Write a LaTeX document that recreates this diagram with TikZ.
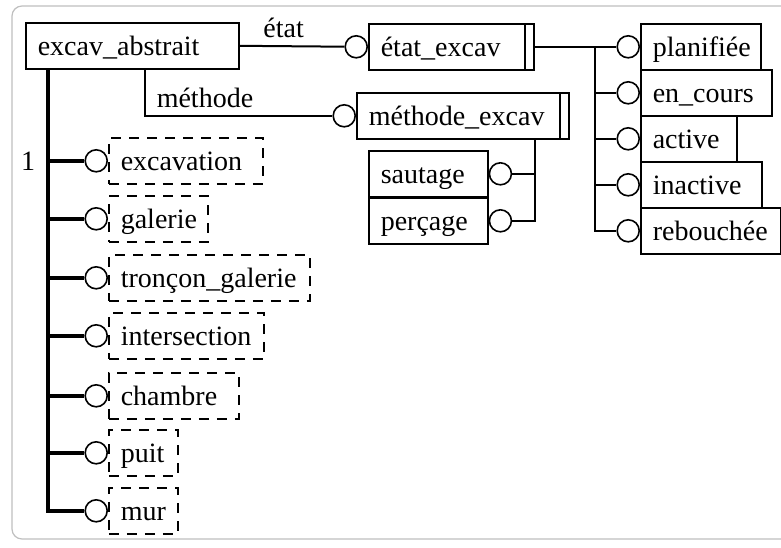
\documentclass[tikz,border=0pt]{standalone}
\usepackage{fontspec}
\setmainfont{Liberation Serif}
\usepackage{tikz}
\usetikzlibrary{positioning}

\tikzset{
  cls/.style = {draw, line width=1.6pt, anchor=north west, inner xsep=12pt, inner ysep=0pt, minimum height=46pt, text height=22pt, text depth=2pt, align=left},
  sub/.style = {cls, dash pattern=on 10pt off 8pt},
  ball/.style = {draw, circle, line width=1.6pt, minimum size=22pt, inner sep=0pt, fill=white},
  wire/.style = {line width=2pt},
  heavy/.style = {line width=4.5pt},
}

\begin{document}
\begin{tikzpicture}[x=1pt, y=-1pt, font=\fontsize{28}{32}\selectfont]
%\draw[help lines] (0,0) grid[step=50] (781,547);
\useasboundingbox (0,0) rectangle (781,547);
\draw [gray!50, line width=1.2pt, rounded corners=10pt] (12,6) rectangle (800,539);

\node (excav) [cls, text width=189pt] at (25,22) {excav\_abstrait};
\node (etat) [cls, text width=141pt] at (368,23) {état\_excav};
\node (methode) [cls, text width=188pt] at (356,92) {méthode\_excav};
\node (sautage) [cls, text width=95pt] at (368,150) {sautage};
\node (percage) [cls, text width=95pt] at (368,197) {perçage};

\node (planifiee) [cls, text width=96pt] at (640,23) {planifiée};
\node (en_cours) [cls, text width=107pt] at (640,69) {en\_cours};
\node (active) [cls, text width=72pt] at (640,115) {active};
\node (inactive) [cls, text width=97pt] at (640,161) {inactive};
\node (rebouchee) [cls, text width=116pt] at (640,207) {rebouchée};

\node (excavation) [sub, text width=130pt] at (108,137) {excavation};
\node (galerie) [sub, text width=75pt] at (108,195) {galerie};
\node (troncon) [sub, text width=177pt] at (108,254) {tronçon\_galerie};
\node (intersection) [sub, text width=131pt] at (108,312) {intersection};
\node (chambre) [sub, text width=106pt] at (108,372) {chambre};
\node (puit) [sub, text width=45pt] at (108,429) {puit};
\node (mur) [sub, text width=45pt] at (108,487) {mur};

\draw [wire] ([xshift=-10pt]etat.north east) -- ([xshift=-10pt]etat.south east);
\draw [wire] ([xshift=-10pt]methode.north east) -- ([xshift=-10pt]methode.south east);

\coordinate (trunk) at ([xshift=23pt]excav.south west);
\coordinate (bus) at ([xshift=60pt]etat.east);
\coordinate (mbus) at ([xshift=-35pt]methode.south east);

\node (b_etat) [ball, left=0pt of etat] {};
\node (b_methode) [ball, left=0pt of methode] {};
\node (b_sautage) [ball, right=0pt of sautage] {};
\node (b_percage) [ball, right=0pt of percage] {};
\node (b_planifiee) [ball, left=0pt of planifiee] {};
\node (b_en_cours) [ball, left=0pt of en_cours] {};
\node (b_active) [ball, left=0pt of active] {};
\node (b_inactive) [ball, left=0pt of inactive] {};
\node (b_rebouchee) [ball, left=0pt of rebouchee] {};
\node (b_excavation) [ball, left=0pt of excavation] {};
\node (b_galerie) [ball, left=0pt of galerie] {};
\node (b_troncon) [ball, left=0pt of troncon] {};
\node (b_intersection) [ball, left=0pt of intersection] {};
\node (b_chambre) [ball, left=0pt of chambre] {};
\node (b_puit) [ball, left=0pt of puit] {};
\node (b_mur) [ball, left=0pt of mur] {};

\node (one) at ([xshift=-20pt]trunk |- b_excavation) {1};

\draw [wire] ([xshift=120pt]excav.south west) |- node [above, yshift=4pt, pos=0.66] {méthode} (b_methode);
\draw [wire] (bus) |- (b_rebouchee);
\draw [wire] (mbus) |- (b_percage);
\draw [heavy] (trunk) |- (b_mur);

\path
(excav.east) edge [wire] node [above, yshift=4pt, pos=0.42] {état} (b_etat)
(etat.east) edge [wire] (b_planifiee)
(bus |- b_en_cours) edge [wire] (b_en_cours)
(bus |- b_active) edge [wire] (b_active)
(bus |- b_inactive) edge [wire] (b_inactive)
(mbus |- b_sautage) edge [wire] (b_sautage)
(trunk |- b_excavation) edge [heavy] (b_excavation)
(trunk |- b_galerie) edge [heavy] (b_galerie)
(trunk |- b_troncon) edge [heavy] (b_troncon)
(trunk |- b_intersection) edge [heavy] (b_intersection)
(trunk |- b_chambre) edge [heavy] (b_chambre)
(trunk |- b_puit) edge [heavy] (b_puit);
\end{tikzpicture}
\end{document}
